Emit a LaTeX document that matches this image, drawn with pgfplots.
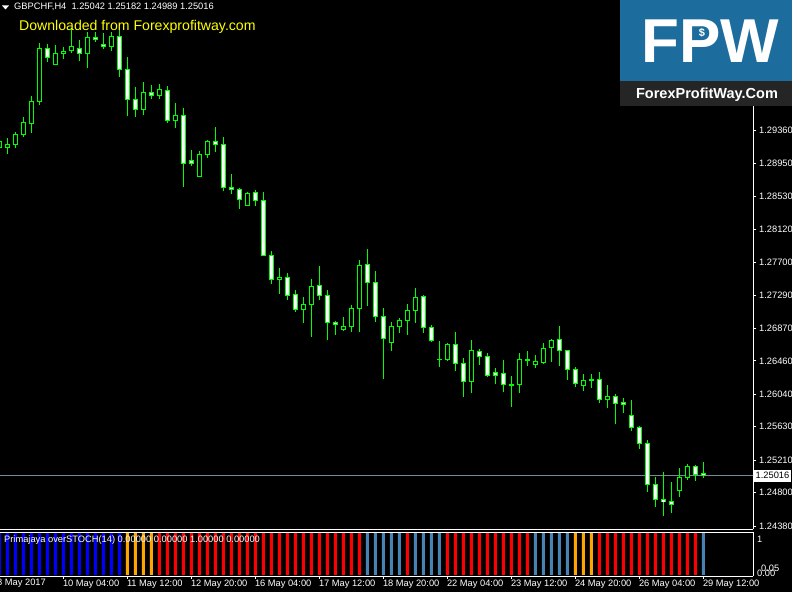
\documentclass[border=0pt]{standalone}
\usepackage{pgfplots}
\pgfplotsset{compat=1.18}
\usepackage{pgfplotstable}
\usepackage{fontspec}
\setmainfont{Liberation Sans}
\definecolor{cgreen}{RGB}{0,255,0}
\definecolor{cblue}{RGB}{0,0,255}
\definecolor{corange}{RGB}{255,165,0}
\definecolor{cred}{RGB}{255,0,0}
\definecolor{csteel}{RGB}{70,130,180}
\definecolor{bidgray}{RGB}{119,136,153}
\definecolor{logoblue}{RGB}{28,108,158}
\definecolor{logodark}{RGB}{37,37,37}
\definecolor{cyell}{RGB}{255,255,0}

% bullish candles (hollow/black body)
\pgfplotstableread{
i o h l c
0 1.29146 1.29243 1.29117 1.29222
1 1.29146 1.29272 1.29067 1.29189
2 1.29189 1.29344 1.29146 1.29315
3 1.29315 1.29529 1.29285 1.29466
4 1.29453 1.29797 1.29335 1.29734
5 1.29725 1.30469 1.29684 1.30398
7 1.30197 1.30440 1.30188 1.30335
8 1.30335 1.30415 1.30263 1.30364
9 1.30368 1.30650 1.30335 1.30427
11 1.30335 1.30607 1.30154 1.30537
14 1.30423 1.30607 1.30368 1.30553
18 1.29630 1.29974 1.29558 1.29844
20 1.29801 1.29948 1.29759 1.29882
22 1.29491 1.29705 1.29398 1.29554
25 1.28781 1.29104 1.28777 1.29063
26 1.29058 1.29243 1.29020 1.29227
31 1.28424 1.28584 1.28411 1.28571
35 1.27488 1.27630 1.27303 1.27513
38 1.27105 1.27265 1.26937 1.27173
39 1.27168 1.27492 1.26761 1.27400
43 1.26853 1.27013 1.26837 1.26896
44 1.26891 1.27164 1.26824 1.27123
45 1.27118 1.27731 1.26824 1.27664
49 1.26689 1.26946 1.26585 1.26896
50 1.26891 1.26997 1.26815 1.26972
51 1.26966 1.27177 1.26786 1.27097
52 1.27092 1.27378 1.26937 1.27261
56 1.26475 1.26689 1.26455 1.26669
59 1.26203 1.26720 1.26059 1.26594
65 1.26160 1.26560 1.26056 1.26480
67 1.26412 1.26534 1.26371 1.26455
68 1.26446 1.26686 1.26421 1.26619
69 1.26623 1.26736 1.26446 1.26720
73 1.26148 1.26295 1.26081 1.26216
76 1.25971 1.26156 1.25867 1.26014
85 1.24825 1.25111 1.24749 1.24994
86 1.24989 1.25161 1.24963 1.25132
}\bull

% bearish candles (white body)
\pgfplotstableread{
i o h l c
6 1.30398 1.30452 1.30229 1.30285
10 1.30398 1.30503 1.30238 1.30335
12 1.30537 1.30600 1.30481 1.30512
13 1.30452 1.30587 1.30386 1.30423
15 1.30553 1.30629 1.30040 1.30134
16 1.30134 1.30285 1.29549 1.29756
17 1.29756 1.29907 1.29536 1.29630
19 1.29844 1.29932 1.29759 1.29806
21 1.29869 1.29923 1.29461 1.29491
23 1.29554 1.29642 1.28655 1.28949
24 1.28987 1.29117 1.28919 1.28944
27 1.29227 1.29407 1.29096 1.29189
28 1.29189 1.29281 1.28604 1.28647
29 1.28647 1.28815 1.28563 1.28617
30 1.28622 1.28634 1.28374 1.28491
32 1.28584 1.28613 1.28411 1.28478
33 1.28483 1.28588 1.27782 1.27785
34 1.27790 1.27845 1.27429 1.27488
36 1.27513 1.27564 1.27227 1.27286
37 1.27299 1.27353 1.27076 1.27105
40 1.27412 1.27656 1.27227 1.27286
41 1.27286 1.27353 1.26723 1.26941
42 1.26946 1.26959 1.26786 1.26921
46 1.27677 1.27870 1.27152 1.27445
47 1.27450 1.27593 1.26950 1.27017
48 1.27022 1.27123 1.26232 1.26740
53 1.27274 1.27284 1.26812 1.26883
54 1.26883 1.26912 1.26702 1.26715
55 1.26481 1.26711 1.26383 1.26479
57 1.26669 1.26824 1.26337 1.26430
58 1.26430 1.26493 1.26009 1.26203
60 1.26581 1.26606 1.26412 1.26518
61 1.26518 1.26556 1.26257 1.26274
62 1.26308 1.26371 1.26169 1.26274
63 1.26304 1.26471 1.26068 1.26160
64 1.26165 1.26270 1.25879 1.26156
66 1.26475 1.26585 1.26400 1.26468
70 1.26732 1.26900 1.26396 1.26589
71 1.26594 1.26596 1.26219 1.26349
72 1.26354 1.26383 1.26131 1.26173
74 1.26222 1.26295 1.26119 1.26220
75 1.26228 1.26320 1.25933 1.25971
77 1.26014 1.26043 1.25665 1.25921
78 1.25938 1.25993 1.25804 1.25913
79 1.25775 1.25967 1.25581 1.25618
80 1.25624 1.25636 1.25350 1.25417
81 1.25422 1.25464 1.24808 1.24900
82 1.24905 1.25001 1.24623 1.24716
83 1.24716 1.25060 1.24506 1.24686
84 1.24691 1.24934 1.24548 1.24648
87 1.25132 1.25152 1.24951 1.25026
88 1.25042 1.25182 1.24989 1.25016
}\bear

\newcommand{\smallfont}{\fontsize{9.3}{11}\selectfont}
\pgfplotsset{
  candle/.style 2 args={only marks, mark=*, mark size=0pt, mark options={draw=none, fill=none}, forget plot,
    error bars/.cd, y dir=both, y explicit, error mark=none,
    error bar style={line width=#1, draw=#2}},
}

\begin{document}
\begin{tikzpicture}
\useasboundingbox (0pt,0pt) rectangle (792pt,592pt);
\fill[black] (0pt,0pt) rectangle (792pt,592pt);
\clip (0pt,0pt) rectangle (792pt,592pt);

% ---------- main price panel ----------
\begin{axis}[
  at={(0pt,63pt)}, anchor=south west,
  scale only axis, width=753pt, height=529pt,
  xmin=0.0875, xmax=94.2125,
  ymin=1.243422, ymax=1.310066,
  axis x line*=bottom, axis y line*=right,
  axis line style={white, line width=1pt, -},
  xtick=\empty,
  ytick={1.24380,1.24800,1.25210,1.25630,1.26040,1.26460,1.26870,1.27290,1.27700,1.28120,1.28530,1.28950,1.29360},
  yticklabels={1.24380,1.24800,1.25210,1.25630,1.26040,1.26460,1.26870,1.27290,1.27700,1.28120,1.28530,1.28950,1.29360},
  scaled y ticks=false,
  tick align=outside, major tick length=3pt,
  tick style={white, line width=1pt},
  yticklabel style={text=white, font=\smallfont, anchor=west, inner sep=0pt, xshift=3pt},
  /pgf/number format/assume math mode=true,
]
\addplot[bidgray, line width=1pt, forget plot] coordinates {(0,1.25016) (95,1.25016)};
% wicks
\addplot[candle={1pt}{cgreen}]
  table[x=i, y expr={(\thisrow{h}+\thisrow{l})/2}, y error expr={(\thisrow{h}-\thisrow{l})/2}] \bull;
\addplot[candle={1pt}{cgreen}]
  table[x=i, y expr={(\thisrow{h}+\thisrow{l})/2}, y error expr={(\thisrow{h}-\thisrow{l})/2}] \bear;
% body outlines
\addplot[candle={5pt}{cgreen}]
  table[x=i, y expr={(\thisrow{o}+\thisrow{c})/2}, y error expr={abs(\thisrow{o}-\thisrow{c})/2+0.000063}] \bull;
\addplot[candle={5pt}{cgreen}]
  table[x=i, y expr={(\thisrow{o}+\thisrow{c})/2}, y error expr={abs(\thisrow{o}-\thisrow{c})/2+0.000063}] \bear;
% body fills
\addplot[candle={3pt}{black}]
  table[x=i, y expr={(\thisrow{o}+\thisrow{c})/2}, y error expr={max(abs(\thisrow{o}-\thisrow{c})/2-0.000063,0)}] \bull;
\addplot[candle={3pt}{white}]
  table[x=i, y expr={(\thisrow{o}+\thisrow{c})/2}, y error expr={max(abs(\thisrow{o}-\thisrow{c})/2-0.000063,0)}] \bear;
\coordinate (bid) at (axis cs:94.2125,1.25016);
\end{axis}

% current price label
\node[anchor=west, fill=white, text=black, font=\smallfont, inner xsep=1.5pt, inner ysep=1.5pt, minimum height=12pt] at ([xshift=1pt]bid) {1.25016};

% ---------- indicator panel ----------
\begin{axis}[
  at={(0pt,16pt)}, anchor=south west,
  scale only axis, width=753pt, height=44pt,
  xmin=0.0875, xmax=94.2125,
  ymin=-0.024, ymax=1.024,
  axis x line*=bottom, axis y line*=right,
  axis line style={white, line width=1pt, -},
  ytick=\empty,
  xtick={8,16,24,32,40,48,56,64,72,80,88},
  xticklabels={10 May 04:00,11 May 12:00,12 May 20:00,16 May 04:00,17 May 12:00,18 May 20:00,22 May 04:00,23 May 12:00,24 May 20:00,26 May 04:00,29 May 12:00},
  tick align=outside, major tick length=3pt,
  tick style={white, line width=1pt},
  xticklabel style={text=white, font=\smallfont, anchor=north west, inner sep=0pt, xshift=-0.5pt, yshift=-1pt},
]
\addplot[ybar, bar width=3pt, bar shift=0pt, fill=cblue, draw=none] coordinates {
(0,1)(1,1)(2,1)(3,1)(4,1)(5,1)(6,1)(7,1)(8,1)(9,1)(10,1)(11,1)(12,1)(13,1)(14,1)(15,1)};
\addplot[ybar, bar width=3pt, bar shift=0pt, fill=corange, draw=none] coordinates {
(16,1)(17,1)(18,1)(19,1)(72,1)(73,1)(74,1)};
\addplot[ybar, bar width=3pt, bar shift=0pt, fill=cred, draw=none] coordinates {
(20,1)(21,1)(22,1)(23,1)(24,1)(25,1)(26,1)(27,1)(28,1)(29,1)(30,1)(31,1)(32,1)(33,1)(34,1)(35,1)(36,1)(37,1)(38,1)(39,1)(40,1)(41,1)(42,1)(43,1)(44,1)(45,1)
(51,1)
(56,1)(57,1)(58,1)(59,1)(60,1)(61,1)(62,1)(63,1)(64,1)(65,1)(66,1)
(75,1)(76,1)(77,1)(78,1)(79,1)(80,1)(81,1)(82,1)(83,1)(84,1)(85,1)(86,1)(87,1)};
\addplot[ybar, bar width=3pt, bar shift=0pt, fill=csteel, draw=none] coordinates {
(46,1)(47,1)(48,1)(49,1)(50,1)(52,1)(53,1)(54,1)(55,1)(67,1)(68,1)(69,1)(70,1)(71,1)(88,1)};
\end{axis}
\draw[white, line width=1pt] (0pt,60pt) -- (753pt,60pt);

% texts
\fill[white] (2pt,586.5pt) -- (9pt,586.5pt) -- (5.5pt,582.5pt) -- cycle;
\node[anchor=west, text=white, font=\smallfont, inner sep=0pt] at (14pt,585pt) {GBPCHF,H4\ \ 1.25042 1.25182 1.24989 1.25016};
\node[anchor=west, text=cyell, font=\fontsize{14.1}{16}\selectfont, inner sep=0pt] at (19pt,565pt) {Downloaded from Forexprofitway.com};
\node[anchor=west, text=white, font=\smallfont, inner sep=0pt] at (4pt,52pt) {Primajaya overSTOCH(14) 0.00000 0.00000 1.00000 0.00000};
\node[anchor=west, text=white, font=\smallfont, inner sep=0pt] at (757pt,53pt) {1};
\node[anchor=west, text=white, font=\smallfont, inner sep=0pt] at (761pt,24pt) {0.05};
\node[anchor=west, text=white, font=\smallfont, inner sep=0pt] at (757pt,19pt) {0.00};
\node[anchor=west, text=white, font=\smallfont, inner sep=0pt] at (-3pt,9pt) {8 May 2017};

% logo
\fill[logoblue] (620pt,511pt) rectangle (792pt,592pt);
\fill[logodark] (620pt,486pt) rectangle (792pt,511pt);
\node[anchor=base, text=white, font=\fontsize{62}{62}\bfseries\selectfont, inner sep=0pt] at (710pt,529pt) {FPW};
\fill[logoblue] (702pt,559pt) circle (6.5pt);
\node[text=white, font=\fontsize{11}{11}\bfseries\selectfont, inner sep=0pt] at (702pt,559pt) {\$};
\node[anchor=base, text=white, font=\fontsize{14.5}{15}\bfseries\selectfont, inner sep=0pt] at (707pt,493pt) {ForexProfitWay.Com};
\end{tikzpicture}
\end{document}
